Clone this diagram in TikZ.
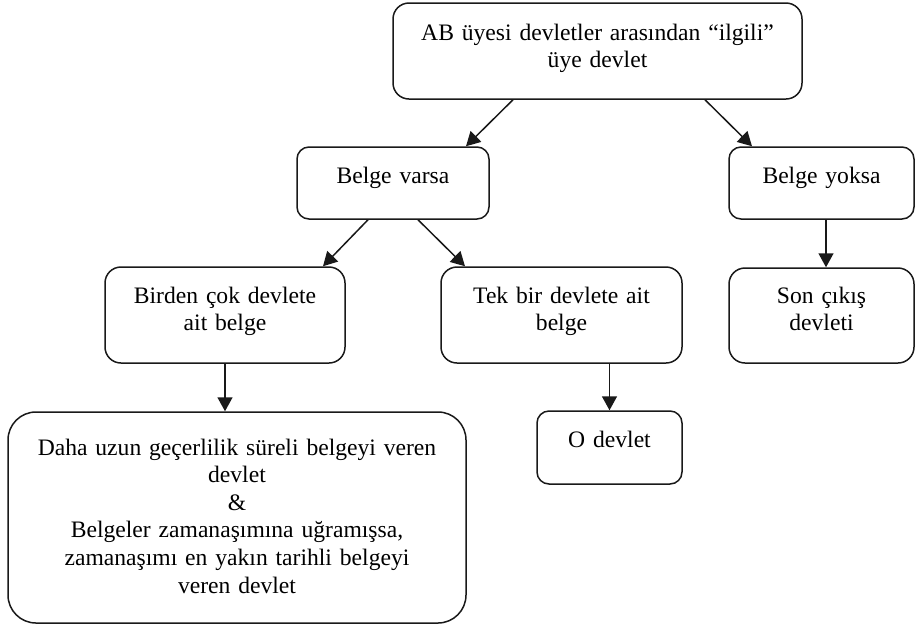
\documentclass[tikz,border=0pt]{standalone}
\usepackage{fontspec}
\setmainfont{Liberation Serif}
\usetikzlibrary{arrows.meta}
\begin{document}
\begin{tikzpicture}[x=1pt,y=-1pt,
  flowbox/.style n args={4}{draw=black!90, line width=1.5pt, inner sep=0pt,
    align=center, font=\fontsize{23.6}{27.6}\selectfont,
    minimum width=#1, text width=#1, minimum height=#2,
    rounded corners=#3, text height=0pt, text depth=#4},
  arr/.style={draw=black!90, line width=1.5pt, -{Triangle[length=14pt,width=15pt]}}
]
\useasboundingbox (0,0) rectangle (915,625);

% boxes
\node[flowbox={409pt}{96pt}{16pt}{22pt}] (top) at (597.5,51)
  {AB üyesi devletler arasından “ilgili”\\üye devlet};
\node[flowbox={192pt}{72pt}{12pt}{0pt}] (varsa) at (393,183) {Belge varsa};
\node[flowbox={185pt}{72pt}{12pt}{0pt}] (yoksa) at (821.5,183) {Belge yoksa};
\node[flowbox={240pt}{96pt}{16pt}{24pt}] (birden) at (225,315)
  {Birden çok devlete\\ait belge};
\node[flowbox={241pt}{96pt}{16pt}{24pt}] (tek) at (561.5,315)
  {Tek bir devlete ait\\belge};
\node[flowbox={185pt}{95pt}{16pt}{25pt}] (son) at (821.5,315.5)
  {Son çıkış\\devleti};
\node[flowbox={458pt}{211pt}{28pt}{125pt}] (daha) at (237,517.5)
  {Daha uzun geçerlilik süreli belgeyi veren\\devlet\\\&\\Belgeler zamanaşımına uğramışsa,\\zamanaşımı en yakın tarihli belgeyi\\veren devlet};
\node[flowbox={145pt}{73pt}{12pt}{0pt}] (odev) at (609.5,447.5) {O devlet};

% connectors
\draw[arr] (top.south -| 513,0) -- (varsa.north -| 466,0);
\draw[arr] (top.south -| 705,0) -- (yoksa.north -| 752,0);
\draw[arr] (varsa.south -| 368,0) -- (birden.north -| 323,0);
\draw[arr] (varsa.south -| 418,0) -- (tek.north -| 465,0);
\draw[arr] (birden.south) -- (daha.north -| birden.south);
\draw[arr] (tek.south -| odev.north) -- (odev.north);
\draw[arr] (yoksa.south -| 826,0) -- (son.north -| 826,0);
\end{tikzpicture}
\end{document}
